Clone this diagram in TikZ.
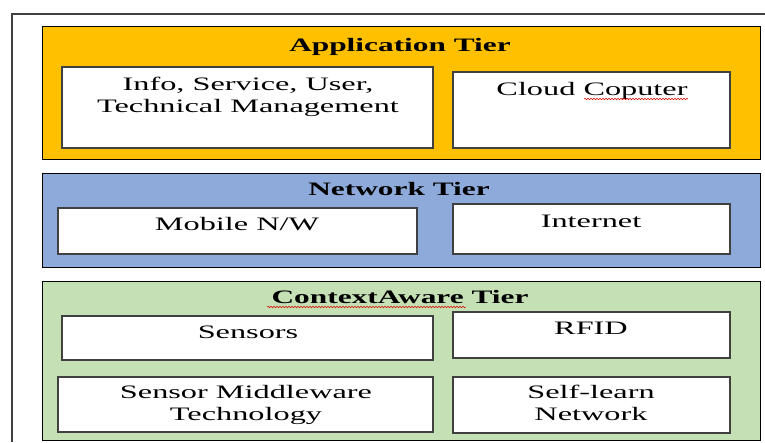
\documentclass[tikz,border=0pt]{standalone}
\usepackage{fontspec}
\setmainfont{Liberation Serif}[FakeStretch=1.7]
\newfontfamily\ttlfont{Liberation Serif}[FakeStretch=1.65]
\usetikzlibrary{decorations.pathmorphing}
\definecolor{appc}{HTML}{FFC000}
\definecolor{netc}{HTML}{8EAADB}
\definecolor{ctxc}{HTML}{C5E0B4}
\definecolor{framec}{HTML}{404040}
\begin{document}
\begin{tikzpicture}[x=1pt,y=-1pt,
  tier/.style={draw=black, line width=1pt, anchor=north west, inner sep=0pt, outer sep=0pt},
  inbox/.style={draw=black!75, line width=1.4pt, fill=white, anchor=north west, inner sep=0pt, outer sep=0pt},
  txt/.style={font=\fontsize{19}{22}\selectfont, align=center, inner sep=0pt, anchor=base},
  ttl/.style={font=\fontsize{19}{22}\selectfont\ttlfont\bfseries, align=center, inner sep=0pt, anchor=base},
  squig/.style={draw=red!85!black, line width=0.5pt, decorate, decoration={snake, amplitude=0.8pt, segment length=3pt}}]
\useasboundingbox (0,0) rectangle (765,442);
\fill[white] (0,0) rectangle (765,442);
\draw[framec, line width=1.3pt] (12,442) -- (12,14) -- (765,14);
% Application tier
\node[tier, fill=appc, minimum width=718pt, minimum height=133pt] (app) at (42,26) {};
\node[inbox, minimum width=371pt, minimum height=81pt] (info) at (62,67) {};
\node[inbox, minimum width=277pt, minimum height=76pt] (cloud) at (453,72) {};
\node[ttl] (appt) at (400,51) {Application Tier};
\node[txt] (infot) at (248,112) {Info, Service, User,\\Technical Management};
\node[txt] (cloudt) at (592,95) {Cloud Coputer};
% Network tier
\node[tier, fill=netc, minimum width=718pt, minimum height=94pt] (net) at (42,173) {};
\node[inbox, minimum width=359pt, minimum height=46pt] (mob) at (58,208) {};
\node[inbox, minimum width=277pt, minimum height=50pt] (inet) at (453,204) {};
\node[ttl] (nett) at (399,195) {Network Tier};
\node[txt] (mobt) at (237,230) {Mobile N/W};
\node[txt] (inett) at (591,227) {Internet};
% Context aware tier
\node[tier, fill=ctxc, minimum width=718pt, minimum height=159pt] (ctx) at (42,281) {};
\node[inbox, minimum width=371pt, minimum height=44pt] (sens) at (62,316) {};
\node[inbox, minimum width=277pt, minimum height=46pt] (rfid) at (453,312) {};
\node[inbox, minimum width=375pt, minimum height=55pt] (mid) at (58,377) {};
\node[inbox, minimum width=277pt, minimum height=56pt] (self) at (453,377) {};
\node[ttl] (ctxt) at (400,303) {ContextAware Tier};
\node[txt] (senst) at (248,338) {Sensors};
\node[txt] (rfidt) at (591,334) {RFID};
\node[txt] (midt) at (246,420) {Sensor Middleware\\Technology};
\node[txt] (selft) at (591,420) {Self-learn\\Network};
% spelling squiggles
\draw[squig] (584,99) -- (688,99);
\draw[squig] (267,307) -- (466,307);
\end{tikzpicture}
\end{document}
